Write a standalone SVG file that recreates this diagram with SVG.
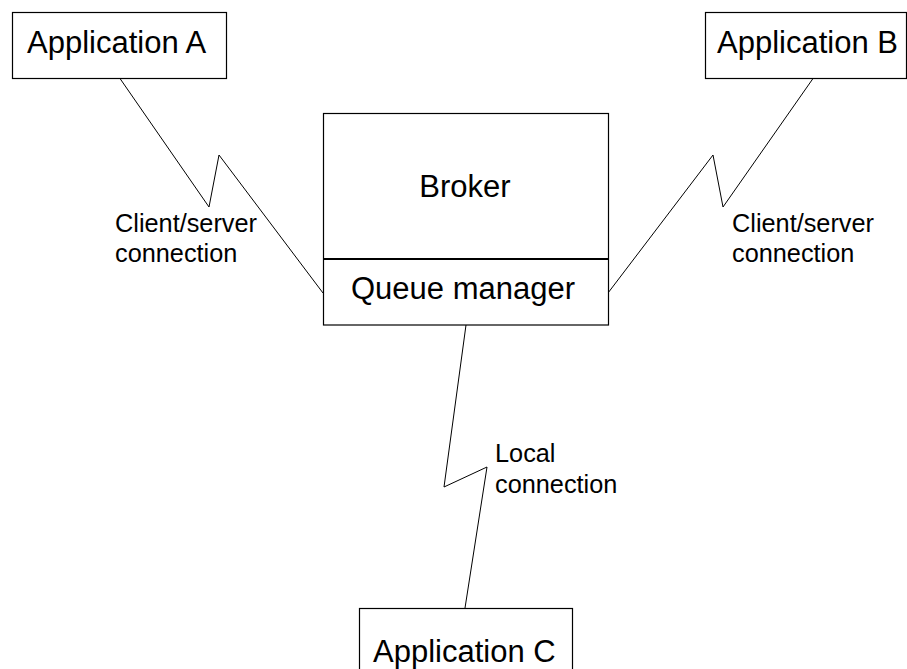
<svg xmlns="http://www.w3.org/2000/svg" width="907" height="669" viewBox="0 0 907 669">
<style>
.box{fill:#fff;stroke:#000;stroke-width:1.2}
.t{font-family:"Liberation Sans",Arial,sans-serif;font-size:31px;fill:#000}
.l{font-family:"Liberation Sans",Arial,sans-serif;font-size:25.3px;fill:#000}
.c{fill:none;stroke:#000;stroke-width:1}
</style>
<rect width="907" height="669" fill="#fff"/>
<g id="connectors">
<polyline class="c" points="120,78.5 209,207 219,155 323,293"/>
<polyline class="c" points="813,78.5 723,207 713,155 608,293"/>
<polyline class="c" points="466,325 444,487 487,467 465,608"/>
</g>
<g id="appA">
<rect class="box" x="12.5" y="12.5" width="214" height="66"/>
<text class="t" x="27" y="53">Application A</text>
</g>
<g id="appB">
<rect class="box" x="705.5" y="12.5" width="201" height="66"/>
<text class="t" x="717" y="53">Application B</text>
</g>
<g id="broker">
<rect class="box" x="323.5" y="113.5" width="285" height="211.5"/>
<line x1="323.5" y1="259" x2="608.5" y2="259" stroke="#000" stroke-width="2"/>
<text class="t" x="465" y="197" text-anchor="middle">Broker</text>
<text class="t" x="463" y="299" text-anchor="middle">Queue manager</text>
</g>
<g id="appC">
<rect class="box" x="359.5" y="608.5" width="213" height="70"/>
<text class="t" x="373" y="662">Application C</text>
</g>
<g id="labels">
<text class="l" x="115" y="232">Client/server</text>
<text class="l" x="115" y="262">connection</text>
<text class="l" x="732" y="232">Client/server</text>
<text class="l" x="732" y="262">connection</text>
<text class="l" x="495" y="462">Local</text>
<text class="l" x="495" y="493">connection</text>
</g>
</svg>
